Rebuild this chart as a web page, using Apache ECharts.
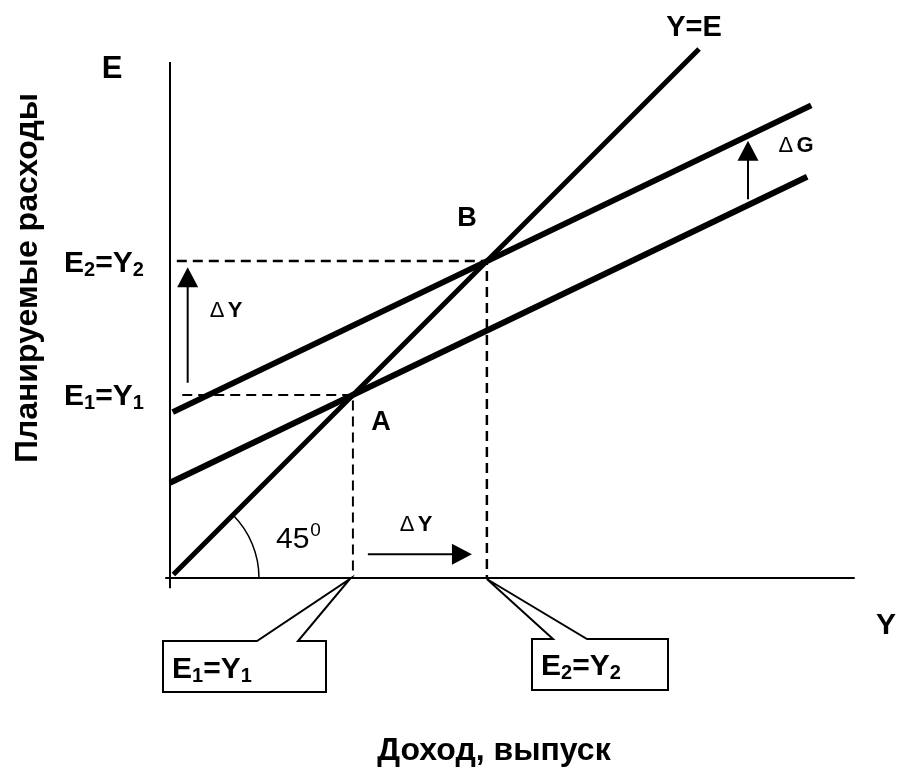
<!DOCTYPE html>
<html>
<head>
<meta charset="utf-8">
<title>Кейнсианский крест</title>
<script src="https://cdn.jsdelivr.net/npm/echarts@6/dist/echarts.min.js"></script>
<style>
html, body { margin: 0; padding: 0; background: #fff; }
#chart { width: 907px; height: 769px; }
</style>
</head>
<body>
<div id="chart"></div>
<script>
// one unit has the same length on both axes, so Y=E goes at 45 degrees
const lineYE = [[0.5, 0.5], [77.8, 77.8]];
const lineE1 = [[0, 14.0], [93.7, 59.0]];   // планируемые расходы до ΔG
const lineE2 = [[0.4, 24.4], [94.3, 69.5]]; // после ΔG
const pointA = [26.9, 26.9];
const pointB = [46.6, 46.6];
const dashStartA = 1.8;
const dashStartB = 1.0;
const axisX = [[-0.7, 0], [100.7, 0]];
const axisY = [[0, -1.5], [0, 75.9]];
const arrowDY1 = [[2.6, 28.7], [2.6, 45.7]];
const arrowDY2 = [[29.1, 3.5], [44.4, 3.5]];
const arrowDG = [[85.0, 55.7], [85.0, 64.3]];

const FONT = 'Liberation Sans, Arial, sans-serif';
const headSize = [21, 20];
const headHalf = 1.47; // half of the head length, in units

function lineSeries(data, width, dashed) {
  return {
    type: 'line',
    data: data,
    symbol: 'none',
    silent: true,
    animation: false,
    lineStyle: { color: '#000', width: width, type: dashed ? [10, 6] : 'solid', cap: 'butt' }
  };
}

// arrow = shaft (line) + solid triangle head (scatter)
function arrowSeries(arr) {
  const p0 = arr[0], p1 = arr[1];
  const dx = p1[0] - p0[0], dy = p1[1] - p0[1];
  const len = Math.sqrt(dx * dx + dy * dy);
  const ux = dx / len, uy = dy / len;
  const head = [p1[0] - ux * headHalf, p1[1] - uy * headHalf];
  const shaftEnd = [p1[0] - ux * headHalf * 1.5, p1[1] - uy * headHalf * 1.5];
  const rot = Math.atan2(dy, dx) * 180 / Math.PI - 90;
  return [
    lineSeries([p0, shaftEnd], 2, false),
    {
      type: 'scatter',
      data: [head],
      symbol: 'triangle',
      symbolSize: headSize,
      symbolRotate: rot,
      silent: true,
      animation: false,
      itemStyle: { color: '#000', opacity: 1 }
    }
  ];
}

const chart = echarts.init(document.getElementById('chart'));

let series = [
  lineSeries(axisX, 2, false),
  lineSeries(axisY, 2, false),
  lineSeries([[dashStartA, pointA[1]], pointA, [pointA[0], 0]], 2, true),
  lineSeries([[dashStartB, pointB[1]], pointB, [pointB[0], 0]], 2.5, true),
  lineSeries(lineE1, 6, false),
  lineSeries(lineE2, 6, false),
  lineSeries(lineYE, 5, false)
];
series = series.concat(arrowSeries(arrowDY1), arrowSeries(arrowDY2), arrowSeries(arrowDG));

chart.setOption({
  backgroundColor: '#fff',
  animation: false,
  grid: { left: 163.2, top: 34, width: 700.4, height: 557.6 },
  xAxis: { type: 'value', min: -1, max: 102, show: false },
  yAxis: { type: 'value', min: -2, max: 80, show: false },
  series: series
});

const origin = chart.convertToPixel({ gridIndex: 0 }, [0, 0]);
const tipA = chart.convertToPixel({ gridIndex: 0 }, [pointA[0], 0]);
const tipB = chart.convertToPixel({ gridIndex: 0 }, [pointB[0], 0]);

const subRich = {
  b: { fontSize: 30, fontWeight: 'bold', fontFamily: FONT, color: '#000' },
  s: { fontSize: 20, fontWeight: 'bold', fontFamily: FONT, color: '#000', padding: [13, 0, 0, 0] }
};
const deltaRich = {
  d: { fontSize: 22, fontWeight: 'normal', fontFamily: FONT, color: '#000' },
  b: { fontSize: 22, fontWeight: 'bold', fontFamily: FONT, color: '#000' }
};

function label(text, x, y, size, opts) {
  return Object.assign({
    type: 'text', x: x, y: y, silent: true,
    style: {
      text: text, fill: '#000', font: 'bold ' + size + 'px ' + FONT,
      align: 'center', verticalAlign: 'middle'
    }
  }, opts || {});
}

function richLabel(text, x, y, rich, align) {
  return {
    type: 'text', x: x, y: y, silent: true,
    style: { text: text, rich: rich, align: align || 'left', verticalAlign: 'middle' }
  };
}

chart.setOption({
  graphic: [
    label('E', 112, 69, 31),
    label('Y=E', 694, 28, 29),
    label('Y', 886, 626, 30),
    label('A', 381, 423, 27),
    label('B', 467, 219, 27),
    label('Доход, выпуск', 494, 751, 32),
    {
      type: 'text', x: 28, y: 278, rotation: Math.PI / 2, silent: true,
      style: { text: 'Планируемые расходы', fill: '#000', font: 'bold 32px ' + FONT, align: 'center', verticalAlign: 'middle' }
    },
    richLabel('{b|E}{s|2}{b|=Y}{s|2}', 64, 264, subRich),
    richLabel('{b|E}{s|1}{b|=Y}{s|1}', 64, 397, subRich),
    richLabel('{b|E}{s|1}{b|=Y}{s|1}', 172, 670, subRich),
    richLabel('{b|E}{s|2}{b|=Y}{s|2}', 541, 667, subRich),
    richLabel('{d|Δ} {b|Y}', 226, 311, deltaRich, 'center'),
    richLabel('{d|Δ} {b|Y}', 416, 525, deltaRich, 'center'),
    richLabel('{d|Δ} {b|G}', 796, 146, deltaRich, 'center'),
    {
      type: 'text', x: 276, y: 540, silent: true,
      style: {
        text: '{n|45}{u|0}', verticalAlign: 'middle',
        rich: {
          n: { fontSize: 30, fontFamily: FONT, color: '#000' },
          u: { fontSize: 19, fontFamily: FONT, color: '#000', padding: [0, 0, 18, 1] }
        }
      }
    },
    {
      type: 'arc', silent: true,
      shape: { cx: origin[0], cy: origin[1], r: 89, startAngle: -Math.PI / 4, endAngle: 0, clockwise: true },
      style: { stroke: '#000', lineWidth: 1.5, fill: null }
    },
    // выноски
    {
      type: 'polygon', silent: true,
      shape: { points: [[257, 641], [163, 641], [163, 692], [326, 692], [326, 641], [298, 641], [tipA[0] - 3, tipA[1] + 1]] },
      style: { stroke: '#000', lineWidth: 2, fill: null }
    },
    {
      type: 'polygon', silent: true,
      shape: { points: [[553, 639], [532, 639], [532, 690], [668, 690], [668, 639], [587, 639], [tipB[0], tipB[1] + 1]] },
      style: { stroke: '#000', lineWidth: 2, fill: null }
    }
  ]
});
</script>
</body>
</html>
